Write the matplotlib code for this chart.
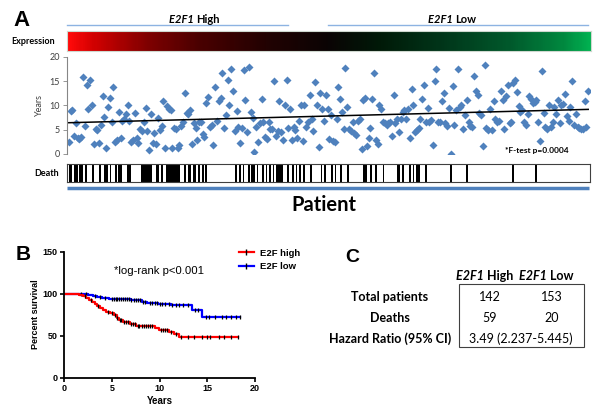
import numpy as np
import matplotlib.pyplot as plt
from matplotlib.colors import LinearSegmentedColormap
from matplotlib.lines import Line2D
from matplotlib.patches import Rectangle

W, H = 600, 417

# --- panel A: survival (years) per patient, ordered by E2F1 expression high -> low
years = [
    2.5, 8.8, 9.0, 3.8, 6.3, 3.3, 3.0, 3.5, 15.9, 5.8, 14.2, 9.2, 15.2, 10.2, 2.1, 5.1, 4.9, 2.3, 6.0, 11.9,
    7.6, 1.3, 9.7, 11.5, 6.6, 13.8, 2.5, 2.8, 8.7, 3.2, 6.9, 7.3, 8.2, 10.2, 6.9, 2.5, 2.8, 8.5, 3.3, 2.3,
    5.2, 4.7, 6.5, 9.5, 4.7, 0.9, 8.2, 2.3, 4.3, 2.1, 7.4, 4.9, 5.8, 10.9, 1.3, 9.8, 9.3, 9.0, 1.3, 5.4,
    5.1, 1.3, 1.9, 5.8, 6.5, 12.6, 8.5, 8.3, 9.0, 2.1, 6.3, 5.4, 2.8, 6.6, 6.6, 4.2, 3.5, 10.6, 11.8, 5.6,
    6.0, 1.8, 13.8, 6.9, 10.9, 11.5, 16.6, 5.4, 8.0, 15.2, 10.0, 17.5, 12.9, 4.7, 8.8, 5.6, 2.3, 5.4, 17.3, 11.2,
    4.5,
    17.9, 8.7, 7.4, 0.5, 5.6, 2.5, 6.3, 11.4, 6.6, 3.5, 3.0, 6.7, 5.2, 5.1, 15.1, 3.8, 4.7, 10.9, 4.5, 2.8,
    10.2, 15.3, 5.4, 9.3, 2.8, 5.6, 5.0, 3.3, 6.9, 10.0, 2.6, 10.0, 5.6, 6.6, 12.1, 7.3, 4.7, 14.8, 10.0, 1.4,
    12.6, 9.3, 6.9, 12.1, 9.2, 3.0, 8.0, 2.6, 2.5, 7.3, 13.8, 11.4, 8.7, 5.2, 17.7, 9.7, 5.1, 4.7, 6.6, 4.4,
    4.0, 6.9, 7.3, 1.0, 11.1, 11.6, 1.6, 3.2, 5.4, 11.4, 16.8, 2.8, 2.1, 10.0, 9.2, 6.6, 6.3, 5.9, 6.3, 6.6,
    3.7, 12.2, 6.3, 7.3, 4.5, 7.3, 8.7, 9.0, 7.3, 9.2, 3.2, 13.3, 10.0, 4.5, 4.9, 5.4, 7.3, 11.4, 14.3, 6.6,
    9.5, 6.6, 7.1, 1.8, 15.0, 17.6, 6.6, 6.5, 10.9, 12.6, 6.3, 5.8, 9.5, 0.1, 14.0, 6.0, 9.0, 17.5, 9.7, 10.0,
    5.2, 8.0, 11.1, 6.5, 5.8, 5.6, 16.1, 12.9, 12.1, 8.5, 8.0, 1.6, 18.3, 5.4, 4.9, 9.2, 4.9, 10.9, 7.3, 6.6,
    6.9, 12.9, 11.1, 5.1, 12.0, 14.2, 6.3, 6.5, 14.7, 15.2, 12.8, 9.9, 8.7, 9.0, 6.6, 5.9, 8.3, 12.0, 11.4, 10.6,
    10.7, 11.1, 6.6, 2.6, 17.1, 8.5, 5.6, 5.2, 10.2, 5.6, 6.5, 9.7, 8.3, 11.1, 6.3, 10.0, 10.4, 12.4, 7.8, 6.9,
    9.7, 15.0, 5.9, 8.3, 5.6, 5.4, 5.2, 5.1, 10.9, 5.6, 12.9,
]
trend_years = [6.45, 9.2]   # fitted line at first / last patient
n_patients = 295
death_rank = [1, 2, 4, 5, 7, 8, 10, 14, 18, 21, 22, 24, 27, 29, 30, 34, 35, 42, 43, 44,
              45, 46, 47, 50, 51, 53, 56, 57, 58, 59, 60, 61, 62, 63, 66, 68, 69, 71, 72, 74,
              76, 78, 95, 97, 99, 102, 104, 105, 107, 110, 112, 114, 116, 118, 119, 120, 121, 124, 127, 129,
              131, 133, 137, 143, 145, 149, 151, 154, 158, 167, 168, 171, 174, 178, 186, 187, 189, 193, 195, 197,
              198, 202, 216, 225, 251, 264]
expr_stops = [0.0, 0.05, 0.15, 0.25, 0.38, 0.5, 0.6, 0.72, 0.85, 0.95, 1.0]
expr_colors = ['#ff0a0a', '#d00000', '#800000', '#4a0000', '#220202', '#0a0404', '#001a08', '#00361a',
               '#005a2c', '#00883f', '#00b050']

# --- panel B: Kaplan-Meier steps
high_t = [0, 1.2, 1.6, 2.0, 2.3, 2.6, 2.9, 3.2, 3.5, 3.8, 4.1, 4.4, 4.8, 5.2, 5.5, 5.8, 6.2, 6.9, 7.5, 8.0, 9.5, 9.9, 11.0, 11.5, 12.0]
high_s = [100, 99.3, 98.6, 97.2, 95.0, 92.9, 90.0, 87.8, 85.0, 82.7, 80.5, 78.5, 77.0, 74.6, 71.5, 68.0, 66.0, 64.0, 62.0, 61.0, 58.5, 56.5, 54.5, 52.0, 48.0]
high_end = 18.2
high_cens = [2.2, 2.8, 3.6, 4.6, 5.0, 5.3, 5.6, 5.9, 6.0, 6.3, 6.5, 6.7, 7.0, 7.2, 7.4, 7.7, 7.9, 8.2, 8.4, 8.6,
             8.8, 9.0, 9.2, 10.2, 10.4, 10.6, 10.8, 11.2, 11.7, 12.3, 13.0, 13.6, 14.5, 15.0, 15.3, 16.2, 16.8, 17.5, 18.2]
low_t = [0, 1.8, 2.5, 3.0, 3.5, 4.0, 4.7, 5.3, 7.0, 7.7, 8.2, 8.7, 9.3, 9.8, 11.2, 13.4, 14.4]
low_s = [100, 99.3, 98.6, 97.3, 96.0, 95.3, 94.0, 93.3, 92.6, 91.9, 90.5, 89.2, 88.5, 87.1, 86.4, 80.0, 72.5]
low_end = 18.4
low_cens = [1.8, 2.3, 3.2, 3.8, 4.3, 5.0, 5.2, 5.4, 5.6, 5.8, 6.0, 6.2, 6.4, 6.6, 6.8, 7.0, 7.3, 7.5, 7.8, 8.0,
            8.3, 8.5, 9.0, 9.2, 9.5, 9.7, 10.0, 10.3, 10.6, 11.0, 11.3, 11.7, 12.0, 12.5, 13.0, 13.7, 14.0, 14.9, 15.2, 15.8,
            16.5, 17.0, 17.5, 18.0, 18.4]

# --- panel C: table
row_labels = ['Total patients', 'Deaths', 'Hazard Ratio (95% CI)']
high_vals = ['142', '59']
low_vals = ['153', '20']
hazard = '3.49 (2.237-5.445)'

CAL = 'Lato'
ARL = 'Liberation Sans'
BLUE = '#4f81bd'


def box(x0, y0, x1, y1):
    return [x0 / W, 1 - y1 / H, (x1 - x0) / W, (y1 - y0) / H]


fig = plt.figure(figsize=(6, 4.17), dpi=100)

# overlay in pixel coords for free text
ov = fig.add_axes([0, 0, 1, 1])
ov.set_xlim(0, W)
ov.set_ylim(H, 0)
ov.axis('off')

# ---------------- panel A ----------------
ov.text(22, 20, 'A', fontsize=16, fontweight='bold', family=ARL, ha='center', va='center')
ov.plot([67, 288], [25, 25], color='#8db3e2', lw=1)
ov.plot([328, 588], [25, 25], color='#8db3e2', lw=1)
for xj, word in [(196, 'High'), (455, 'Low')]:
    ov.text(xj, 19, 'E2F1 ', fontsize=8, fontweight='bold', style='italic', family=CAL, ha='right', va='center')
    ov.text(xj, 19, word, fontsize=8, fontweight='bold', family=CAL, ha='left', va='center')
ov.text(33, 41, 'Expression', fontsize=6.5, fontweight='bold', family=CAL, ha='center', va='center')
ov.text(47, 173, 'Death', fontsize=6.5, fontweight='bold', family=CAL, ha='center', va='center')
ov.plot([67, 589], [188, 188], color=BLUE, lw=2.5, solid_capstyle='butt')
ov.text(324, 205, 'Patient', fontsize=14.5, fontweight='bold', family=CAL, ha='center', va='center')

# expression bar
cmap = LinearSegmentedColormap.from_list('expr', list(zip(expr_stops, expr_colors)))
axg = fig.add_axes(box(67, 31, 591, 51))
axg.imshow(np.linspace(0, 1, n_patients)[None, :], cmap=cmap, aspect='auto')
axg.set_xticks([])
axg.set_yticks([])
for s in axg.spines.values():
    s.set_color('#cfd8cf')
    s.set_linewidth(0.8)

# scatter
axs = fig.add_axes(box(67, 57, 590, 154))
xs = np.arange(len(years))
axs.plot(xs, years, 'D', color=BLUE, ms=3.8, mec='none')
axs.plot([xs[0], xs[-1]], trend_years, color='black', lw=1.1)
axs.set_xlim(-1, len(years))
axs.set_ylim(0, 20)
axs.set_yticks([0, 5, 10, 15, 20])
axs.set_xticks([])
for k in ['top', 'right', 'bottom']:
    axs.spines[k].set_visible(False)
axs.spines['left'].set_color('#868686')
axs.spines['left'].set_linewidth(0.8)
axs.tick_params(axis='y', length=3, width=0.6, color='#868686', labelsize=6.5, pad=2, labelcolor='#404040')
for lab in axs.get_yticklabels():
    lab.set_family(CAL)
axs.set_ylabel('Years', fontsize=6.5, family=CAL, color='#404040', labelpad=4)
axs.patch.set_visible(False)
axs.text(0.96, 0.04, '*F-test p=0.0004', transform=axs.transAxes, fontsize=6, fontweight='bold',
         family=CAL, ha='right', va='center')

# death strip
axd = fig.add_axes(box(67, 164, 590, 182))
axd.bar(death_rank, 1, width=1.0, align='edge', color='black', linewidth=0)
axd.set_xlim(0, n_patients)
axd.set_ylim(0, 1)
axd.set_xticks([])
axd.set_yticks([])
for s in axd.spines.values():
    s.set_color('#404040')
    s.set_linewidth(0.8)

# ---------------- panel B ----------------
ov.text(23, 255, 'B', fontsize=15, fontweight='bold', family=ARL, ha='center', va='center')
axk = fig.add_axes(box(64, 251.5, 255, 377.7))


def km(ax, t, s, end, cens, color):
    tt = list(t) + [end]
    ss = list(s) + [s[-1]]
    ax.step(tt, ss, where='post', color=color, lw=1.6)
    idx = np.searchsorted(t, cens, side='right') - 1
    ax.plot(cens, np.array(s)[idx], '|', color='black', ms=3.5, mew=0.9)


km(axk, low_t, low_s, low_end, low_cens, '#0000ff')
km(axk, high_t, high_s, high_end, high_cens, '#ff0000')
axk.set_xlim(0, 20)
axk.set_ylim(0, 150)
axk.set_xticks([0, 5, 10, 15, 20])
axk.set_yticks([0, 50, 100, 150])
for k in ['top', 'right']:
    axk.spines[k].set_visible(False)
for k in ['left', 'bottom']:
    axk.spines[k].set_linewidth(1.3)
axk.tick_params(length=3, width=1.2, labelsize=6.5, pad=1.5)
for lab in axk.get_xticklabels() + axk.get_yticklabels():
    lab.set_fontweight('bold')
    lab.set_family(ARL)
axk.set_xlabel('Years', fontsize=7, fontweight='bold', family=ARL, labelpad=2)
axk.set_ylabel('Percent survival', fontsize=6.5, fontweight='bold', family=ARL, labelpad=2)
axk.patch.set_visible(False)
ov.text(159, 271, '*log-rank p<0.001', fontsize=8.2, family=ARL, ha='center', va='center')

handles = [Line2D([], [], color='#ff0000', lw=1.6, marker='|', mec='black', ms=4),
           Line2D([], [], color='#0000ff', lw=1.6, marker='|', mec='black', ms=4)]
fig.legend(handles, ['E2F high', 'E2F low'], loc='upper left', bbox_to_anchor=(234 / W, 1 - 244 / H),
           frameon=False, prop={'family': ARL, 'weight': 'bold', 'size': 6.8},
           handlelength=1.6, handletextpad=0.6, labelspacing=0.45, borderpad=0)

# ---------------- panel C ----------------
ov.text(352, 257, 'C', fontsize=14, fontweight='bold', family=ARL, ha='center', va='center')
for xj, word in [(486.5, 'High'), (550, 'Low')]:
    ov.text(xj, 276, 'E2F1 ', fontsize=9, fontweight='bold', style='italic', family=CAL, ha='right', va='center')
    ov.text(xj, 276, word, fontsize=9, fontweight='bold', family=CAL, ha='left', va='center')
ov.add_patch(Rectangle((458.5, 284), 125, 63, fill=False, edgecolor='#404040', lw=0.8))
row_y = [297, 318, 339]
for y, lab in zip(row_y, row_labels):
    ov.text(390, y, lab, fontsize=9, fontweight='bold', family=CAL, ha='center', va='center')
for y, hv, lv in zip(row_y, high_vals, low_vals):
    ov.text(490, y, hv, fontsize=9, family=CAL, ha='center', va='center')
    ov.text(552, y, lv, fontsize=9, family=CAL, ha='center', va='center')
ov.text(521, row_y[2], hazard, fontsize=9, family=CAL, ha='center', va='center')

fig.savefig('out.png', dpi=100)
